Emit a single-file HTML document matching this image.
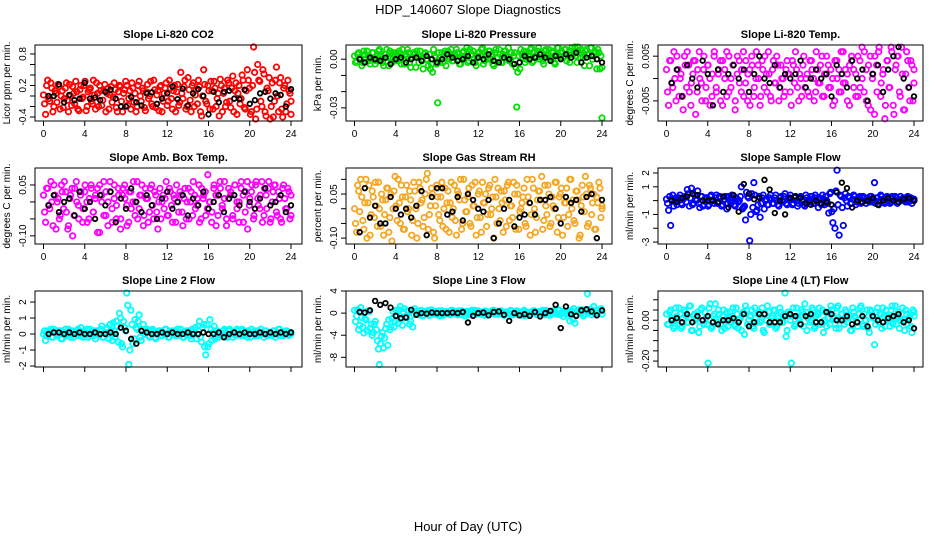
<!DOCTYPE html>
<html><head><meta charset="utf-8"><style>
body{margin:0;background:#fff;}
svg{display:block;font-family:"Liberation Sans",Arial,sans-serif;}
</style></head><body>
<svg id="chart" width="936" height="540" viewBox="0 0 936 540" xmlns="http://www.w3.org/2000/svg">
<rect width="936" height="540" fill="#fff"/>
<text x="468" y="14" text-anchor="middle" font-size="13">HDP_140607  Slope Diagnostics</text>
<text x="468" y="531" text-anchor="middle" font-size="13">Hour of Day (UTC)</text>
</svg>
<script>
const xTicks=[0,4,8,12,16,20,24];
const titles=["Slope Li-820 CO2","Slope Li-820 Pressure","Slope Li-820 Temp.","Slope Amb. Box Temp.","Slope Gas Stream RH","Slope Sample Flow","Slope Line 2 Flow","Slope Line 3 Flow","Slope Line 4 (LT) Flow"];
const yTitles=["Licor ppm per min.","kPa per min.","degrees C per min.","degrees C per min.","percent per min.","ml/min per min.","ml/min per min.","ml/min per min.","ml/min per min."];
const yTicks=[[-0.4,-0.2,0,0.2,0.4,0.6,0.8],[0,-0.01,-0.02,-0.03],[0.005,0,-0.005],[0.05,0,-0.05,-0.1],[0.1,0.05,0,-0.05,-0.1],[2,1,0,-1,-2,-3],[2,1,0,-1,-2],[4,0,-4,-8],[0.1,0.05,0,-0.05,-0.1,-0.15,-0.2]];
const yTickLabels=[["-0.4","0.2","0.8"],["0.00","-0.03"],["0.005","-0.005"],["0.05","-0.10"],["0.05","-0.10"],["2","1","-1","-3"],["2","1","0","-1","-2"],["4","0","-4","-8"],["0.00","-0.20"]];
const yTickLabelVals=[[-0.4,0.2,0.8],[0,-0.03],[0.005,-0.005],[0.05,-0.1],[0.05,-0.1],[2,1,-1,-3],[2,1,0,-1,-2],[4,0,-4,-8],[0,-0.2]];
const yLimits=[[-0.476,0.971],[-0.0381,0.00875],[-0.0095,0.0075],[-0.124,0.1],[-0.12,0.1386],[-3.14,2.36],[-2.06,2.69],[-9.75,4],[-0.229,0.143]];
const seriesColors=["#ff0000","#00dd00","#ff00ff","#ff00ff","#f5a623","#0000ff","#00ffff","#00ffff","#00ffff"];

const colored0=[0.02,-0.35,0.3,-0.1,0.15,-0.2,0.05,0.22,-0.25,0.1,-0.05,0.25,-0.3,0.0,0.18,-0.15,0.08,-0.28,0.2,-0.02,0.28,-0.2,0.12,-0.1,0.3,-0.25,0.05,0.2,-0.18,0.1,-0.3,0.15,0.02,-0.12,0.25,-0.22,0.08,0.18,-0.3,0.12,0.2,-0.05,-0.25,0.15,0.05,-0.2,0.28,-0.1,0.1,-0.28,0.22,0.0,-0.15,0.3,-0.22,0.1,0.18,-0.3,0.05,0.25,-0.1,0.15,-0.25,0.2,0.08,-0.18,0.45,-0.05,0.3,-0.2,0.12,-0.3,0.25,0.02,-0.15,0.18,-0.38,0.5,-0.1,0.2,-0.25,0.1,0.28,-0.2,0.05,0.32,-0.3,0.15,-0.12,0.25,-0.22,0.38,0.1,-0.35,0.2,-0.05,0.3,-0.25,0.5,0.15,-0.3,0.95,-0.45,0.6,0.28,-0.2,0.42,-0.38,0.1,-0.45,0.25,-0.1,0.55,-0.3,0.35,-0.4,0.2,-0.15,0.1,-0.35];
const colored0b=[-0.15,0.2,-0.05,0.25,-0.3,0.1,-0.12,0.18,0.0,-0.22,0.15,-0.08,0.22,-0.18,0.05,0.28,-0.25,0.12,-0.05,0.2,-0.28,0.08,0.15,-0.15,0.02,0.25,-0.2,0.1,-0.08,0.22,0.05,-0.25,0.18,-0.02,0.12,-0.3,0.2,-0.1,0.05,0.28,-0.18,0.1,0.25,-0.12,-0.3,0.2,0.0,0.15,-0.22,0.08,-0.05,0.28,-0.2,0.12,0.02,-0.28,0.2,-0.1,0.15,-0.18,0.3,-0.05,0.1,-0.3,0.22,-0.12,0.05,0.18,-0.25,0.35,-0.08,0.2,-0.2,0.12,0.3,-0.3,0.0,0.22,-0.15,0.1,0.28,-0.25,0.15,-0.05,-0.38,0.2,0.05,-0.2,0.3,-0.1,0.15,-0.3,0.25,0.05,-0.15,0.4,-0.22,0.1,0.3,-0.35,0.2,0.45,-0.25,0.3,-0.1,0.5,-0.3,0.15,0.35,-0.2,-0.4,0.3,0.0,0.25,-0.25,0.15,-0.3,0.3,0.05,-0.1];
const black0=[0.0,0.0,0.22,-0.12,0.02,-0.08,-0.05,0.25,-0.05,-0.03,-0.08,0.08,0.12,-0.05,-0.2,-0.2,-0.02,-0.12,-0.18,0.05,0.07,-0.15,-0.05,0.05,0.18,-0.06,0.14,-0.18,0.05,0.13,0.0,-0.35,0.08,-0.12,0.08,0.1,-0.05,-0.06,0.12,-0.15,-0.08,0.05,0.08,-0.05,0.05,0.02,-0.2,0.13];
const colored1=[0.002,-0.001,0.004,0.0,-0.002,0.003,0.005,-0.001,0.001,0.004,-0.003,0.002,0.006,0.0,-0.004,0.003,0.001,0.005,-0.002,0.002,0.004,-0.001,0.0,0.006,-0.003,0.002,0.004,-0.005,0.001,0.003,0.005,-0.002,0.002,-0.006,0.004,0.0,0.003,-0.003,0.006,0.001,-0.0269,-0.002,0.004,0.002,-0.004,0.005,0.001,-0.001,0.003,0.006,0.0,-0.003,0.004,0.002,0.007,-0.001,0.003,0.005,-0.002,0.001,0.004,0.006,-0.003,0.002,0.0,0.005,0.003,-0.004,0.006,0.001,0.003,-0.002,0.005,0.002,0.007,0.0,-0.003,0.004,-0.0295,0.002,0.006,0.001,-0.002,0.004,0.003,0.007,-0.001,0.002,0.005,0.0,0.004,-0.003,0.006,0.002,0.001,0.005,-0.002,0.003,0.007,0.001,0.004,0.006,-0.001,0.002,0.005,0.003,0.008,-0.002,0.004,0.006,0.001,0.005,0.003,-0.004,0.007,0.002,0.004,0.006,-0.006,-0.0362];
const colored1b=[-0.002,0.003,0.001,-0.004,0.005,0.0,0.002,-0.003,0.004,0.001,-0.001,0.005,0.002,-0.002,0.003,0.006,-0.004,0.001,0.004,-0.001,0.002,0.005,-0.003,0.0,0.003,0.006,-0.002,0.001,0.004,-0.005,0.002,0.005,-0.001,0.003,0.0,-0.004,-0.006,-0.008,0.002,-0.003,0.004,0.001,-0.002,0.005,0.003,0.0,0.006,-0.001,0.002,0.004,-0.003,0.001,0.005,0.002,-0.002,0.006,0.003,0.0,-0.004,0.004,0.002,0.007,-0.001,0.003,0.005,0.0,-0.003,0.004,0.001,0.006,-0.002,0.003,0.005,0.001,-0.001,0.004,0.002,-0.005,-0.008,-0.006,0.003,0.005,0.0,0.002,0.006,-0.002,0.004,0.001,0.007,0.003,-0.001,0.005,0.002,0.006,0.0,0.004,-0.003,0.007,0.002,0.005,0.001,0.006,0.003,-0.002,0.007,0.004,0.002,0.008,0.001,0.005,-0.004,0.006,0.003,0.007,0.0,0.005,-0.006,0.004,0.002,-0.005];
const black1=[0.0,-0.002,0.001,0.0,-0.001,0.001,-0.003,0.0,0.001,-0.002,0.0,0.001,-0.001,0.002,0.0,-0.002,0.0,0.003,0.001,-0.001,0.0,0.002,-0.002,0.001,0.0,0.003,-0.001,-0.002,0.001,0.0,-0.003,-0.002,0.002,0.0,0.001,0.003,0.001,-0.001,0.002,0.0,0.003,0.001,0.004,-0.002,0.001,0.002,0.0,-0.002];
const colored2=[0.002,-0.006,0.004,-0.002,0.0,0.005,-0.004,0.001,-0.007,0.003,0.006,-0.003,-0.001,0.004,-0.008,0.002,0.0,-0.005,0.005,-0.002,0.003,-0.006,0.001,0.006,-0.003,0.002,-0.005,0.004,0.0,-0.004,0.005,-0.002,0.003,-0.007,0.001,0.004,-0.003,0.006,-0.001,-0.005,0.002,0.005,-0.004,0.0,0.003,-0.006,0.004,-0.002,0.001,0.006,-0.004,0.002,-0.001,0.005,-0.005,0.003,0.0,-0.003,0.004,0.001,-0.006,0.003,0.006,-0.002,0.001,-0.004,0.005,0.0,-0.003,0.004,0.002,-0.005,0.006,-0.001,0.003,-0.004,0.001,0.005,-0.002,0.002,-0.006,0.004,0.0,-0.003,0.006,-0.001,0.002,-0.005,0.003,0.005,-0.002,0.001,-0.004,0.004,0.007,-0.003,0.002,-0.006,0.005,0.0,-0.008,0.003,0.006,-0.004,0.001,-0.009,0.004,-0.002,0.007,-0.006,0.002,0.005,-0.003,0.007,-0.007,0.001,0.004,-0.005,0.003,-0.001];
const colored2b=[-0.003,0.004,-0.001,0.006,-0.005,0.002,0.0,-0.004,0.005,-0.002,0.003,-0.006,0.001,0.004,-0.003,0.006,-0.001,0.002,-0.005,0.003,0.0,-0.004,0.005,-0.002,0.001,0.004,-0.006,0.002,0.006,-0.003,0.0,0.003,-0.005,0.005,-0.001,0.002,-0.004,0.004,0.001,-0.006,0.003,-0.002,0.006,0.0,-0.004,0.002,0.005,-0.003,0.001,-0.005,0.004,-0.001,0.003,-0.002,0.0,-0.004,0.002,0.001,-0.003,0.004,-0.001,0.002,-0.005,0.0,0.003,-0.002,0.001,-0.004,0.004,0.0,-0.003,0.002,-0.001,0.005,-0.004,0.001,0.003,-0.002,0.0,-0.005,0.004,0.002,-0.003,0.006,-0.001,0.001,-0.006,0.004,0.002,-0.004,0.005,-0.002,0.0,0.006,-0.005,0.003,-0.007,0.001,0.005,-0.003,0.007,-0.001,0.002,-0.006,0.004,-0.002,0.006,-0.008,0.003,0.005,-0.004,0.001,-0.007,0.006,-0.002,0.004,-0.005,0.002];
const black2=[-0.001,0.002,-0.004,0.003,0.0,-0.002,0.004,0.001,-0.006,0.002,-0.003,0.001,0.003,0.0,0.002,-0.003,0.001,0.005,0.0,-0.001,0.003,-0.002,0.001,0.0,0.001,0.004,-0.002,0.0,0.002,0.0,0.001,-0.004,0.003,0.001,-0.002,0.004,0.0,0.002,-0.005,0.001,0.003,-0.003,0.002,0.005,0.0072,0.0,-0.002,-0.004];
const colored3=[0.02,-0.06,0.04,-0.02,0.0,0.05,-0.08,0.01,-0.04,0.03,0.06,-0.03,-0.07,0.02,-0.1,0.04,0.0,-0.05,0.03,-0.02,0.05,-0.06,0.01,0.04,-0.03,0.02,-0.09,0.05,0.0,-0.04,0.03,-0.07,0.06,-0.02,0.01,-0.05,0.04,-0.08,0.02,0.05,-0.01,-0.06,0.03,0.0,-0.04,0.06,-0.02,0.02,-0.07,0.04,0.01,-0.03,0.05,-0.05,0.02,-0.08,0.04,0.0,-0.02,0.06,-0.04,0.03,-0.06,0.01,0.05,-0.03,0.02,-0.07,0.04,0.0,-0.05,0.03,0.06,-0.02,0.01,-0.06,0.04,0.02,-0.04,0.08,0.0,-0.03,0.05,-0.07,0.02,0.04,-0.02,0.06,-0.05,0.01,0.03,-0.04,0.05,0.0,-0.06,0.04,0.02,-0.03,0.06,-0.01,0.03,-0.05,0.05,0.01,-0.02,0.06,-0.04,0.02,0.04,-0.06,0.0,0.05,-0.03,0.03,-0.05,0.04,0.01,-0.02,0.03,-0.04];
const colored3b=[-0.03,0.04,-0.01,0.06,-0.07,0.02,0.0,-0.05,0.05,-0.02,0.03,-0.08,0.01,0.04,-0.04,0.06,-0.01,0.02,-0.06,0.03,0.0,-0.05,0.05,-0.03,0.01,0.04,-0.09,0.02,0.06,-0.04,0.0,0.03,-0.06,0.05,-0.01,0.02,-0.05,0.04,0.01,-0.07,0.03,-0.02,0.06,0.0,-0.05,0.02,0.05,-0.04,0.01,-0.06,0.04,-0.01,0.03,-0.03,0.0,-0.05,0.02,0.01,-0.04,0.04,-0.01,0.02,-0.06,0.0,0.03,-0.03,0.01,-0.05,0.04,0.0,-0.04,0.02,-0.01,0.05,-0.05,0.01,0.03,-0.02,0.0,-0.06,0.04,0.02,-0.04,0.06,-0.01,0.01,-0.07,0.04,0.02,-0.05,0.05,-0.02,0.0,0.06,-0.06,0.03,-0.08,0.01,0.05,-0.04,0.06,-0.01,0.02,-0.06,0.04,-0.02,0.06,-0.05,0.03,0.05,-0.04,0.01,-0.06,0.05,-0.02,0.04,-0.05,0.02];
const black3=[-0.01,0.02,-0.03,0.0,0.01,-0.04,0.03,-0.02,0.0,-0.05,0.02,-0.01,0.03,-0.06,0.01,-0.02,0.04,0.0,-0.03,0.02,-0.01,-0.05,0.01,0.03,-0.02,0.0,0.02,-0.04,0.01,-0.01,0.03,-0.02,0.0,0.02,-0.03,0.01,0.02,-0.01,0.03,0.0,-0.02,0.01,0.04,-0.01,0.0,0.02,-0.03,-0.01];
const colored4=[0.0,-0.08,0.06,0.1,-0.04,0.02,-0.1,0.08,-0.02,0.04,0.09,-0.06,0.0,0.05,-0.09,0.03,0.07,-0.03,-0.11,0.06,0.01,0.1,-0.05,0.04,-0.07,0.08,0.0,0.03,-0.04,0.06,-0.1,0.09,0.02,-0.06,0.05,0.12,-0.02,0.07,-0.08,0.01,0.04,-0.04,0.09,0.0,-0.07,0.06,0.02,-0.03,0.08,-0.09,0.05,0.1,-0.05,0.03,-0.01,0.07,-0.06,0.01,0.09,-0.03,0.06,-0.08,0.02,0.05,-0.02,0.08,0.0,-0.1,0.04,0.07,-0.04,0.02,0.06,-0.06,0.09,0.01,-0.03,0.05,0.08,-0.07,0.0,0.04,-0.05,0.1,0.02,-0.02,0.07,-0.08,0.03,0.06,0.11,-0.04,0.01,0.08,-0.06,0.04,0.0,0.09,-0.03,0.05,-0.09,0.02,0.07,-0.02,0.1,0.03,-0.05,0.06,-0.1,0.01,0.04,0.11,-0.06,0.08,-0.02,0.05,-0.07,0.02,0.07,0.0];
const colored4b=[-0.05,0.08,-0.01,0.04,-0.07,0.1,0.02,-0.09,0.06,-0.03,0.01,0.09,-0.06,0.03,-0.02,0.07,-0.08,0.05,0.0,0.11,-0.04,0.02,0.08,-0.07,0.04,-0.01,0.06,-0.09,0.09,0.0,-0.05,0.07,0.03,-0.03,0.1,-0.07,0.01,0.05,-0.1,0.08,-0.02,0.04,-0.06,0.07,0.02,-0.08,0.09,0.0,-0.04,0.06,0.03,-0.07,0.1,-0.01,0.04,-0.05,0.08,0.01,-0.09,0.05,-0.03,0.09,0.02,-0.06,0.07,-0.02,0.04,0.1,-0.05,0.0,0.06,-0.08,0.03,0.08,-0.04,0.01,0.09,-0.07,0.05,-0.01,0.02,0.07,-0.06,0.04,-0.09,0.1,0.0,-0.03,0.06,0.03,-0.07,0.08,-0.02,0.05,-0.05,0.01,0.09,-0.08,0.04,0.07,-0.03,0.02,-0.06,0.1,0.0,-0.04,0.06,0.03,-0.09,0.08,-0.01,0.05,-0.05,0.07,0.02,-0.07,0.04,0.09,-0.03,0.01];
const black4=[-0.08,0.07,-0.03,0.01,-0.05,-0.05,0.04,0.0,-0.02,0.0,-0.03,0.01,0.06,-0.09,0.04,0.07,0.07,-0.02,-0.01,0.04,-0.04,0.05,0.03,0.0,-0.01,0.03,-0.1,-0.05,0.0,0.03,-0.06,-0.03,-0.02,0.02,-0.02,0.03,0.03,0.04,0.0,-0.05,0.04,0.02,0.03,-0.01,0.04,0.05,-0.1,0.03];
const colored5=[0.1,-0.7,-1.8,0.4,0.0,-0.3,0.2,-0.2,0.1,0.3,0.8,-0.4,0.9,-0.2,0.1,0.7,-0.5,0.3,-0.3,0.2,-0.4,0.3,0.0,-0.2,0.4,-0.1,0.2,-0.3,0.1,-0.6,0.3,-0.2,0.2,-0.4,0.1,0.0,1.0,-0.5,-1.4,0.3,-2.9,0.5,1.3,-0.8,-0.3,-1.2,0.2,-0.6,0.1,-0.3,0.4,-0.2,0.2,0.0,-0.4,0.3,-0.1,0.5,-0.3,0.2,0.1,-0.2,0.3,-0.4,0.2,0.0,-0.3,0.4,-0.1,0.1,0.3,-0.2,0.2,-0.5,0.1,0.4,-0.3,0.0,-0.9,0.6,-1.6,-2.0,2.2,-2.5,0.3,-1.8,0.5,-0.4,0.2,-0.2,0.4,-0.3,0.1,0.3,-0.1,0.2,-0.2,0.0,0.3,-0.1,1.3,0.2,-0.3,0.4,0.1,-0.2,0.3,0.0,-0.1,0.2,0.3,-0.2,0.1,0.0,0.2,-0.1,0.3,0.1,-0.2,0.1];
const colored5b=[-0.2,0.3,0.1,-0.4,0.2,0.0,0.4,-0.3,0.2,-0.1,0.5,0.2,-0.3,0.4,0.0,-0.2,0.3,-0.4,0.1,0.2,-0.3,0.4,0.0,0.2,-0.2,0.3,-0.4,0.1,0.3,-0.2,0.0,0.4,-0.3,0.2,-0.1,0.3,-0.6,-0.4,0.6,0.2,-1.0,-0.5,0.4,-0.7,0.3,-0.2,0.4,0.0,-0.3,0.2,0.1,-0.2,0.4,-0.3,0.2,0.0,0.3,-0.2,0.1,0.4,-0.3,0.2,0.0,-0.2,0.3,0.1,-0.4,0.2,0.0,0.3,-0.2,0.4,-0.1,0.2,-0.3,0.1,0.3,-0.2,0.5,-0.8,-0.6,0.7,-0.3,0.4,-0.5,0.2,0.0,0.3,-0.2,0.1,0.3,-0.1,0.2,-0.2,0.3,0.0,0.2,-0.1,0.3,0.1,-0.2,0.2,0.0,0.3,-0.1,0.2,0.1,-0.2,0.3,0.0,0.2,-0.1,0.3,0.1,0.0,0.2,-0.1,0.2,0.1,0.0];
const black5=[0.0,-0.1,0.2,0.3,0.5,0.4,0.0,0.0,0.0,-0.1,0.3,-0.5,0.4,-0.8,1.2,0.5,0.1,0.2,1.5,0.8,-0.9,0.0,-1.0,0.2,0.3,0.2,-0.2,-0.3,0.0,-0.2,-0.1,-0.3,0.6,1.3,0.9,-0.5,0.0,-0.1,0.0,0.2,-0.3,0.0,0.2,0.0,-0.1,0.1,0.2,0.0];
const colored6=[0.0,-0.4,0.2,0.1,-0.2,0.3,0.0,-0.1,0.2,-0.3,0.1,0.0,0.3,-0.2,0.1,0.0,0.2,-0.1,0.4,-0.2,0.1,0.3,-0.1,0.0,0.2,-0.3,0.1,0.0,0.5,-0.2,0.3,0.0,0.6,-0.4,0.2,0.8,-0.5,1.0,-0.8,0.4,2.6,-1.9,1.5,-0.6,0.9,0.3,1.2,-0.4,0.6,0.0,0.3,-0.2,0.2,0.0,-0.3,0.1,0.2,-0.1,0.0,0.3,-0.2,0.1,0.0,0.2,-0.1,0.0,0.3,-0.2,0.1,0.0,0.2,-0.3,0.1,0.4,0.0,0.8,-0.5,0.6,-1.3,-0.8,0.9,-0.4,0.5,0.2,-0.2,0.1,0.0,0.3,-0.1,0.2,0.0,-0.2,0.1,0.3,0.0,-0.1,0.2,0.0,-0.2,0.1,0.3,0.0,-0.1,0.2,0.0,0.1,-0.2,0.2,0.0,0.1,-0.1,0.2,0.0,0.3,-0.1,0.1,0.0,0.2,-0.1,0.0];
const colored6b=[0.2,-0.1,0.0,0.3,-0.2,0.1,0.2,0.0,-0.3,0.1,0.3,-0.1,0.0,0.2,-0.2,0.1,0.3,0.0,-0.1,0.2,0.0,-0.2,0.3,0.1,-0.1,0.2,0.0,0.3,-0.2,0.1,0.4,-0.3,0.2,0.7,-0.2,0.5,1.3,-0.6,0.8,0.2,1.8,-1.0,0.6,-0.3,0.4,0.8,-0.2,0.3,0.0,0.2,-0.1,0.1,0.3,-0.2,0.0,0.2,-0.1,0.1,0.3,0.0,-0.2,0.2,0.1,-0.1,0.3,0.0,0.1,-0.2,0.2,0.0,-0.1,0.3,0.1,-0.3,0.5,-0.2,0.4,-0.8,0.6,-0.6,0.3,0.1,-0.3,0.2,0.0,-0.1,0.2,0.1,-0.2,0.3,0.0,0.1,-0.1,0.2,0.0,0.3,-0.1,0.1,0.2,-0.2,0.0,0.2,0.1,-0.1,0.3,0.0,0.2,-0.1,0.1,0.0,0.2,-0.2,0.1,0.3,0.0,-0.1,0.2,0.1,0.0,0.1];
const black6=[0.0,0.1,0.1,0.0,0.1,0.0,0.1,0.0,0.0,0.1,0.0,0.0,0.1,0.0,0.4,0.2,-0.3,-0.6,0.2,0.1,0.0,0.0,0.1,0.0,0.1,0.0,0.0,0.1,0.0,0.0,0.1,0.0,0.0,0.1,-0.2,0.0,0.1,0.0,0.1,0.0,0.0,0.1,0.0,0.1,0.0,0.1,0.0,0.1];
const colored7=[0.5,-0.5,-3.0,1.0,-2.5,-1.0,-3.2,0.3,-2.0,-3.5,-1.5,-5.0,-9.3,-4.2,-6.3,-2.8,-5.8,-3.0,-1.0,-2.5,0.5,-1.8,1.2,-2.2,0.8,-0.5,0.3,-1.5,-2.5,0.8,0.2,-0.3,0.5,-0.5,0.3,0.0,-0.4,0.6,-0.2,0.3,0.0,-0.5,0.4,-0.2,0.3,0.0,-0.3,0.5,-0.1,0.2,0.4,-0.3,0.1,-0.5,0.3,0.0,0.2,-0.4,0.5,-0.1,0.3,-0.2,0.0,0.4,-0.3,0.2,-0.1,0.5,0.0,-0.2,0.3,0.1,-0.4,0.2,0.0,0.5,-0.3,0.1,0.4,-0.2,0.0,0.3,-0.5,0.2,0.1,-0.1,0.4,0.0,-0.3,0.3,0.2,-0.2,0.5,0.0,-0.4,0.3,0.1,-0.1,0.6,-0.3,0.2,0.4,-0.2,0.0,0.5,-1.2,-1.8,0.3,0.6,0.0,-0.5,0.4,3.5,0.2,-0.3,1.2,0.5,0.0,0.3,-0.2];
const colored7b=[-1.5,0.6,-2.2,-0.8,-3.6,-1.2,0.4,-2.8,-4.0,-2.0,-3.0,-6.5,-5.5,-3.5,-4.5,-2.0,-1.2,-2.5,0.3,-1.5,-0.5,0.6,-1.2,0.2,-0.8,0.5,-2.0,0.4,-0.3,0.3,0.0,0.4,-0.4,0.2,0.0,0.5,-0.3,0.1,0.3,-0.2,0.4,0.0,-0.4,0.3,0.1,-0.2,0.5,0.0,0.3,-0.3,0.2,0.4,-0.1,0.0,0.3,-0.3,0.5,0.1,-0.2,0.4,0.0,0.2,-0.4,0.3,0.1,-0.1,0.5,-0.2,0.3,0.0,0.4,-0.3,0.2,0.1,-0.1,0.4,0.0,-0.2,0.3,0.1,-0.4,0.5,0.2,0.0,-0.1,0.3,0.4,-0.2,0.1,0.0,0.5,-0.3,0.2,0.3,-0.1,0.4,0.0,-0.2,0.5,0.1,-0.6,0.3,0.0,-1.4,0.4,0.8,-0.3,0.5,0.1,0.6,-0.2,0.4,0.0,0.7,0.3,-0.1,0.5,0.2,0.8,0.4];
const black7=[0.2,0.1,0.5,2.2,1.5,1.8,1.0,-0.5,-0.9,-0.8,0.6,-0.3,0.0,-0.1,0.1,0.0,0.0,0.0,0.1,0.0,0.2,-1.7,-0.5,0.0,0.1,-0.4,0.2,0.3,-0.3,-1.4,0.0,-0.4,-0.2,-0.5,0.2,-0.6,0.0,0.4,1.5,-2.7,1.2,-0.2,-0.5,0.5,0.7,0.3,-0.4,0.5];
const colored8=[0.03,-0.02,0.05,0.0,-0.03,0.02,0.06,-0.04,0.01,0.04,-0.01,0.07,-0.05,0.02,0.0,0.04,-0.03,0.06,-0.02,0.01,-0.21,0.08,-0.03,0.03,0.0,0.05,-0.02,0.02,-0.04,0.04,0.01,-0.01,0.06,-0.03,0.03,0.0,-0.05,0.04,0.07,-0.02,0.02,0.05,-0.04,0.01,0.03,-0.01,0.06,-0.06,0.0,0.04,-0.02,0.02,0.05,-0.03,0.01,0.04,-0.01,0.14,-0.05,0.03,-0.21,0.06,-0.02,0.02,0.0,0.05,-0.03,0.04,0.01,-0.01,0.06,-0.04,0.02,0.03,-0.02,0.05,0.0,-0.03,0.04,0.07,0.01,-0.02,0.06,-0.04,0.03,0.0,0.05,-0.01,0.02,-0.05,0.04,0.01,-0.03,0.06,-0.02,0.03,0.0,-0.04,0.05,0.02,-0.12,0.04,-0.01,0.03,0.06,-0.03,0.02,0.0,0.05,-0.02,0.07,0.01,-0.04,0.03,0.0,0.05,-0.02,0.02,-0.06,0.04];
const colored8b=[-0.02,0.04,0.01,-0.04,0.06,0.0,0.03,-0.03,0.05,0.02,-0.01,0.07,-0.05,0.03,0.01,-0.06,0.05,0.0,0.04,-0.02,0.06,-0.04,0.02,0.08,-0.01,0.03,-0.05,0.05,0.0,-0.03,0.04,0.02,-0.02,0.06,-0.04,0.01,0.03,-0.07,0.05,0.0,0.02,-0.03,0.06,-0.01,0.04,0.0,-0.05,0.03,0.07,-0.02,0.01,0.05,-0.04,0.02,0.06,-0.01,0.03,-0.08,0.04,0.0,0.02,-0.03,0.06,0.01,-0.02,0.04,0.08,-0.05,0.02,0.0,0.05,-0.03,0.03,0.06,-0.01,-0.06,0.04,0.01,-0.02,0.05,0.02,-0.04,0.07,0.0,0.03,-0.02,0.04,0.01,-0.05,0.06,0.02,-0.01,0.03,0.07,-0.03,0.0,0.05,-0.06,0.04,0.01,-0.02,0.06,0.03,-0.04,0.02,0.05,0.0,-0.03,0.07,0.01,-0.02,0.04,0.0,0.06,-0.05,0.03,0.01,-0.03,0.05,0.02];
const black8=[0.0,0.01,-0.01,0.03,-0.01,0.02,0.0,0.02,-0.01,-0.02,0.0,0.0,0.01,-0.01,0.03,-0.03,-0.01,0.03,0.03,-0.01,-0.01,-0.01,0.02,0.03,0.02,-0.02,0.02,0.03,-0.01,-0.01,0.04,0.03,0.0,0.0,0.02,-0.02,-0.01,0.02,-0.03,0.02,0.0,-0.01,0.01,0.02,0.03,-0.01,0.0,-0.04];
const coloredSeries=[colored0,colored1,colored2,colored3,colored4,colored5,colored6,colored7,colored8];
const coloredSeriesB=[colored0b,colored1b,colored2b,colored3b,colored4b,colored5b,colored6b,colored7b,colored8b];
const blackSeries=[black0,black1,black2,black3,black4,black5,black6,black7,black8];

const NS="http://www.w3.org/2000/svg";
const svg=document.getElementById('chart');
const boxL=[35,346,658], boxR=[302,612,923], boxT=[45,168,291], boxB=[121,244,367];
function mk(tag,attrs,parent){const e=document.createElementNS(NS,tag);for(const k in attrs)e.setAttribute(k,attrs[k]);parent.appendChild(e);return e;}
for(let p=0;p<9;p++){
  const c=p%3,r=Math.floor(p/3);
  const L=boxL[c],R=boxR[c],T=boxT[r],B=boxB[r];
  const g=mk('g',{},svg);
  
  
  const xs=v=>L+8.5+v/24*247.5;
  const [y0,y1]=yLimits[p];
  const ys=v=>B-(v-y0)/(y1-y0)*(B-T);
  const t=mk('text',{x:(L+R)/2,y:T-7,'text-anchor':'middle','font-size':11,'font-weight':'bold'},g);
  t.textContent=titles[p];
  
  
  const yt=mk('text',{transform:`translate(${L-25},${(T+B)/2}) rotate(-90)`,'text-anchor':'middle','font-size':10},g);
  yt.textContent=yTitles[p];
  
  
  const pts=mk('g',{},g);
  
  
  [[coloredSeries[p],0],[coloredSeriesB[p],0.5]].forEach(([cs,off])=>{
    const n=cs.length;
    cs.forEach((v,i)=>{
      const y=Math.max(T+2,Math.min(B-2,ys(v)));
      const ci=mk('circle',{cx:xs(Math.min(24,(i+off)*24/(n-1))),cy:y,r:2.7,fill:'none',stroke:seriesColors[p],'stroke-width':1.8},pts);
      
      
    });
  });
  const bs=blackSeries[p];
  bs.forEach((v,i)=>{
    const y=Math.max(T+2,Math.min(B-2,ys(v)));
    const ci=mk('circle',{cx:xs((i+1)*0.5),cy:y,r:2.3,fill:'none',stroke:'#000','stroke-width':1.8},pts);
    
    
  });
  const box=mk('rect',{x:L,y:T,width:R-L,height:B-T,fill:'none',stroke:'#000','stroke-width':1},g);
  
  
  xTicks.forEach(v=>{
    const tk=mk('line',{x1:xs(v),x2:xs(v),y1:B,y2:B+5,stroke:'#000'},g);
    
    
    if(r<2){const tl=mk('text',{x:xs(v),y:B+16,'text-anchor':'middle','font-size':10},g);tl.textContent=v;
      
      }
  });
  yTicks[p].forEach(v=>{
    const tk=mk('line',{x1:L-5,x2:L,y1:ys(v),y2:ys(v),stroke:'#000'},g);
    
    
  });
  yTickLabelVals[p].forEach((v,i)=>{
    const tl=mk('text',{transform:`translate(${L-9},${ys(v)}) rotate(-90)`,'text-anchor':'middle','font-size':10},g);
    tl.textContent=yTickLabels[p][i];
    
    
  });
}
</script>
</body></html>
